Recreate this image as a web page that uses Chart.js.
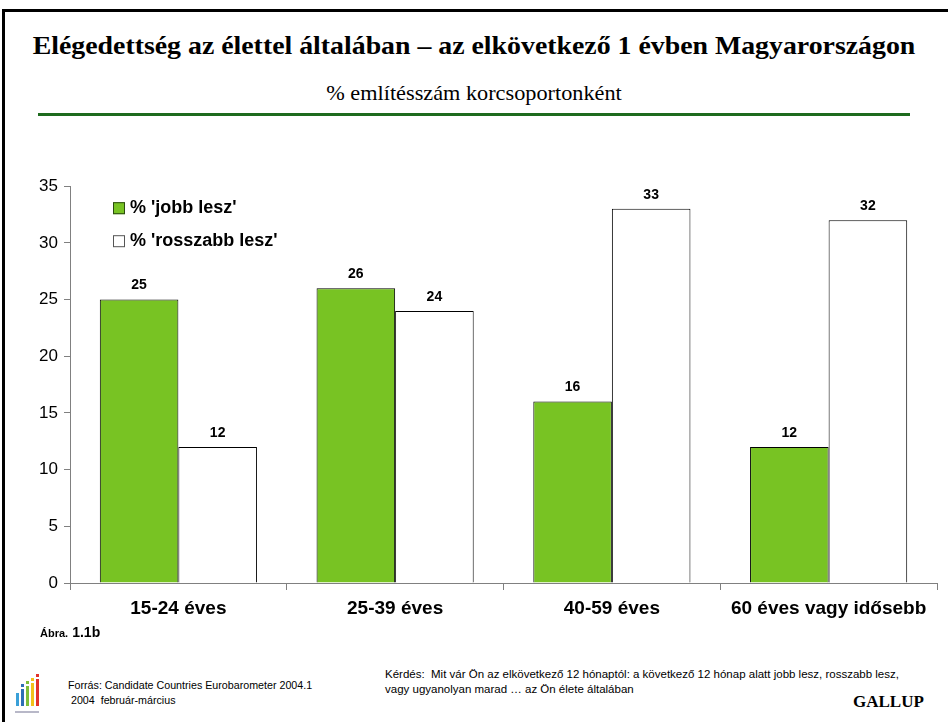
<!DOCTYPE html>
<html>
<head>
<meta charset="utf-8">
<script src="https://cdn.jsdelivr.net/npm/chart.js@4/dist/chart.umd.min.js"></script>
<style>
  body { margin: 0; background: #fff; }
  #page { position: relative; width: 948px; height: 722px; overflow: hidden; background: #fff; }
  #frame { position: absolute; left: 2px; top: 9px; width: 960px; height: 720px; border-left: 3px solid #000; border-top: 3px solid #000; }
  .txt { position: absolute; white-space: nowrap; color: #000; }
  #title { left: 0; width: 948px; top: 31px; text-align: center; font: bold 26px "Liberation Serif", serif; transform: scaleX(1.07); }
  #subtitle { left: 0; width: 948px; top: 81px; text-align: center; font: 21px "Liberation Serif", serif; transform: scaleX(1.06); }
  #rule { position: absolute; left: 38px; top: 113px; width: 872px; height: 3px; background: #1e6b1e; }
  #chartBox { position: absolute; left: 0; top: 170px; width: 948px; height: 460px; }
  #abra { left: 40px; top: 624px; font: bold 11px "Liberation Sans", Arial, sans-serif; }
  #abra b { font-size: 14px; margin-left: 1px; }
  #kerdes { left: 385px; top: 667px; font: 11.5px "Liberation Sans", Arial, sans-serif; line-height: 15px; }
  #forras { left: 68px; top: 678px; font: 10.7px "Liberation Sans", Arial, sans-serif; line-height: 15px; }
  #gallup { left: 853px; top: 692px; font: bold 17px "Liberation Serif", serif; }
  .lg { position: absolute; }
</style>
</head>
<body>
<div id="page">
  <div id="frame"></div>
  <div id="title" class="txt">Elégedettség az élettel általában – az elkövetkező 1 évben Magyarországon</div>
  <div id="subtitle" class="txt">% említésszám korcsoportonként</div>
  <div id="rule"></div>
  <div id="chartBox"><canvas id="chart"></canvas></div>
  <div id="abra" class="txt">Ábra. <b>1.1b</b></div>
  <div id="kerdes" class="txt">Kérdés:&nbsp; Mit vár Ön az elkövetkező 12 hónaptól: a következő 12 hónap alatt jobb lesz, rosszabb lesz,<br>vagy ugyanolyan marad … az Ön élete általában</div>
  <div id="forras" class="txt">Forrás: Candidate Countries Eurobarometer 2004.1<br>&nbsp;2004&nbsp; február-március</div>
  <div id="gallup" class="txt">GALLUP</div>
  <!-- small logo -->
  <div class="lg" style="left:16px;top:693px;width:3px;height:13px;background:#3aa0d8"></div>
  <div class="lg" style="left:21px;top:689px;width:3px;height:17px;background:#2c6fb5"></div>
  <div class="lg" style="left:26px;top:686px;width:3px;height:20px;background:#7cbf3a"></div>
  <div class="lg" style="left:31px;top:683px;width:3px;height:23px;background:#f2c21a"></div>
  <div class="lg" style="left:36px;top:679px;width:3px;height:27px;background:#e2322a"></div>
  <div class="lg" style="left:21px;top:684px;width:3px;height:3px;background:#2c6fb5"></div>
  <div class="lg" style="left:26px;top:681px;width:3px;height:3px;background:#7cbf3a"></div>
  <div class="lg" style="left:31px;top:678px;width:3px;height:3px;background:#f2c21a"></div>
  <div class="lg" style="left:36px;top:674px;width:3px;height:3px;background:#e2322a"></div>
  <div class="lg" style="left:15px;top:711px;width:24px;height:2px;background:#b8b8c8"></div>
</div>
<script>
const categories = ['15-24 éves', '25-39 éves', '40-59 éves', '60 éves vagy idősebb'];
const jobbLesz = [25, 26, 16, 12];
const rosszabbLesz = [12, 24, 33, 32];
const seriesLabels = ["% 'jobb lesz'", "% 'rosszabb lesz'"];
const yTicks = [0, 5, 10, 15, 20, 25, 30, 35];

const sans = '"Liberation Sans", Arial, sans-serif';

// value labels above each bar
const valueLabels = {
  id: 'valueLabels',
  afterDatasetsDraw(chart) {
    const ctx = chart.ctx;
    ctx.save();
    ctx.font = 'bold 14px ' + sans;
    ctx.fillStyle = '#000';
    ctx.textAlign = 'center';
    ctx.textBaseline = 'bottom';
    chart.data.datasets.forEach((ds, i) => {
      chart.getDatasetMeta(i).data.forEach((bar, j) => {
        ctx.fillText(ds.data[j], bar.x, bar.y - 7);
      });
    });
    ctx.restore();
  }
};

// legend drawn inside the plot, top left
const insideLegend = {
  id: 'insideLegend',
  afterDraw(chart) {
    const ctx = chart.ctx;
    const left = chart.chartArea.left + 43;
    let y = chart.chartArea.top + 22;
    ctx.save();
    ctx.font = 'bold 18px ' + sans;
    ctx.textBaseline = 'middle';
    chart.data.datasets.forEach(ds => {
      ctx.fillStyle = ds.backgroundColor;
      ctx.fillRect(left, y - 6, 12, 12);
      ctx.strokeStyle = ds.legendBorder;
      ctx.lineWidth = 1;
      ctx.strokeRect(left + 0.5, y - 5.5, 11, 11);
      ctx.fillStyle = '#000';
      ctx.fillText(ds.label, left + 17, y);
      y += 33;
    });
    ctx.restore();
  }
};

new Chart(document.getElementById('chart'), {
  type: 'bar',
  data: {
    labels: categories,
    datasets: [
      { label: seriesLabels[0], data: jobbLesz, backgroundColor: '#78c323', borderColor: '#000', borderWidth: 1, legendBorder: '#2b4a10' },
      { label: seriesLabels[1], data: rosszabbLesz, backgroundColor: '#ffffff', borderColor: '#000', borderWidth: 1, legendBorder: '#555' }
    ]
  },
  options: {
    responsive: true,
    maintainAspectRatio: false,
    animation: false,
    layout: { padding: { top: 15, right: 11, left: 0, bottom: 0 } },
    plugins: { legend: { display: false }, tooltip: { enabled: false } },
    datasets: { bar: { categoryPercentage: 0.725, barPercentage: 1 } },
    scales: {
      x: {
        afterFit(s) { s.height = 47; },
        grid: { offset: true, drawOnChartArea: false, tickLength: 7, color: '#808080' },
        border: { color: '#808080' },
        ticks: { color: '#000', padding: 7, font: { family: sans, size: 19, weight: 'bold' }, maxRotation: 0 }
      },
      y: {
        min: 0, max: 35,
        afterFit(s) { s.width = 70; },
        afterBuildTicks(s) { s.ticks = yTicks.map(v => ({ value: v })); },
        grid: { drawOnChartArea: false, tickLength: 6, color: '#808080' },
        border: { color: '#808080' },
        ticks: { color: '#000', padding: 6, font: { family: sans, size: 17 } }
      }
    }
  },
  plugins: [valueLabels, insideLegend]
});
</script>
</body>
</html>
